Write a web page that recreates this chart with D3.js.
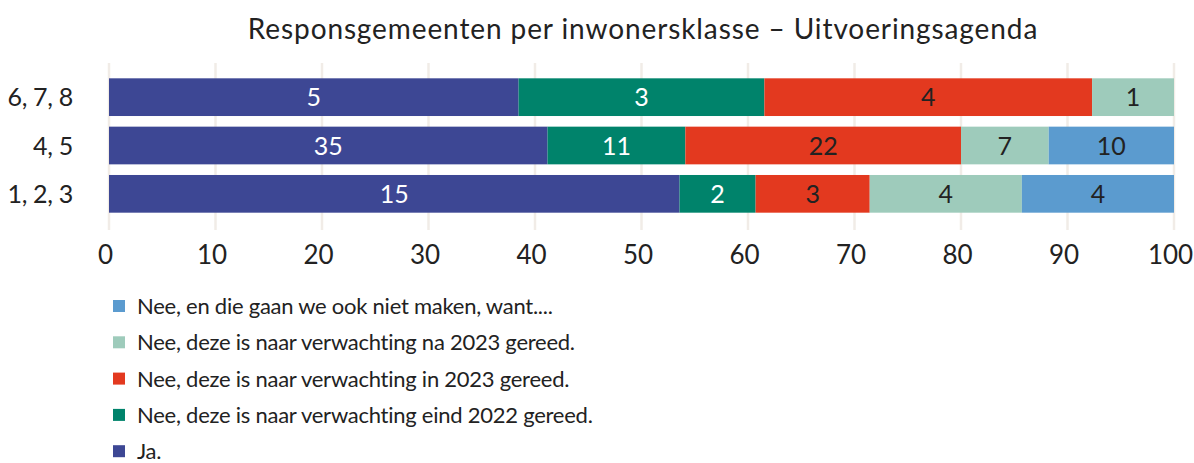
<!DOCTYPE html>
<html><head><meta charset="utf-8">
<script src="https://cdn.jsdelivr.net/npm/d3@7"></script>
<style>body{margin:0;background:#fff}svg{display:block}text{font-family:Lato,"Open Sans",sans-serif;fill:#222}</style>
</head><body>
<script>
const categories = ["6, 7, 8", "4, 5", "1, 2, 3"];
const seriesNames = ["Ja.", "Nee, deze is naar verwachting eind 2022 gereed.", "Nee, deze is naar verwachting in 2023 gereed.", "Nee, deze is naar verwachting na 2023 gereed.", "Nee, en die gaan we ook niet maken, want...."];
const ja = [5, 35, 15];
const eind2022 = [3, 11, 2];
const in2023 = [4, 22, 3];
const na2023 = [1, 7, 4];
const nietMaken = [0, 10, 4];
const ticks = [0, 10, 20, 30, 40, 50, 60, 70, 80, 90, 100];
const colors = ["#3d4794", "#00836b", "#e3391f", "#9ecbbb", "#5b9bcf"];
const labelColors = ["#fff", "#fff", "#222", "#222", "#222"];
const title = "Responsgemeenten per inwonersklasse – Uitvoeringsagenda";

const W = 1194, H = 463;
const svg = d3.select("body").append("svg").attr("width", W).attr("height", H);
const x = d3.scaleLinear().domain([0, 100]).range([109, 1174]);
const y = d3.scaleBand().domain(categories).range([73, 218]).paddingInner(0.22).paddingOuter(0.11);

svg.append("text").attr("x", 643).attr("y", 39).attr("text-anchor", "middle")
  .attr("font-size", 28).attr("letter-spacing", 0.9).text(title);

// gridlines
svg.append("g").selectAll("line").data(ticks).join("line")
  .attr("x1", d => x(d)).attr("x2", d => x(d)).attr("y1", 63).attr("y2", 230)
  .attr("stroke", "#f1ece7").attr("stroke-width", 2.5);

const all = [ja, eind2022, in2023, na2023, nietMaken];
const rows = categories.map((c, i) => {
  const vals = all.map(s => s[i]);
  const tot = d3.sum(vals);
  let acc = 0;
  return vals.map((v, k) => { const s = acc / tot * 100; acc += v; return {c, k, v, x0: s, x1: acc / tot * 100}; });
});
const segs = rows.flat().filter(d => d.v > 0);
svg.append("g").selectAll("rect").data(segs).join("rect")
  .attr("x", d => x(d.x0)).attr("width", d => x(d.x1) - x(d.x0))
  .attr("y", d => y(d.c)).attr("height", y.bandwidth())
  .attr("fill", d => colors[d.k]);
svg.append("g").selectAll("text").data(segs).join("text")
  .attr("x", d => (x(d.x0) + x(d.x1)) / 2).attr("y", d => y(d.c) + y.bandwidth() / 2)
  .attr("dy", "0.36em").attr("text-anchor", "middle").attr("font-size", 25)
  .style("fill", d => labelColors[d.k]).text(d => d.v);

// category labels
svg.append("g").selectAll("text").data(categories).join("text")
  .attr("x", 73).attr("y", d => y(d) + y.bandwidth() / 2).attr("dy", "0.36em")
  .attr("text-anchor", "end").attr("font-size", 25).attr("letter-spacing", -0.3).text(d => d);

// x axis
const ax = svg.append("g").attr("transform", "translate(0,230)")
  .call(d3.axisBottom(x).tickValues(ticks).tickSize(0).tickPadding(16));
ax.select(".domain").remove();
ax.selectAll("text").attr("font-size", 26).attr("dx", -4).attr("font-family", "Lato, sans-serif").style("fill", "#222");

// legend
const legOrder = [4, 3, 2, 1, 0];
const lg = svg.append("g").selectAll("g").data(legOrder).join("g")
  .attr("transform", (d, i) => `translate(113,${306 + i * 36.3})`);
lg.append("rect").attr("x", 0).attr("y", -6).attr("width", 12).attr("height", 12).attr("fill", d => colors[d]);
lg.append("text").attr("x", 24).attr("dy", "0.36em").attr("font-size", 22).attr("letter-spacing", -0.25).text(d => seriesNames[d]);
</script>
</body></html>
